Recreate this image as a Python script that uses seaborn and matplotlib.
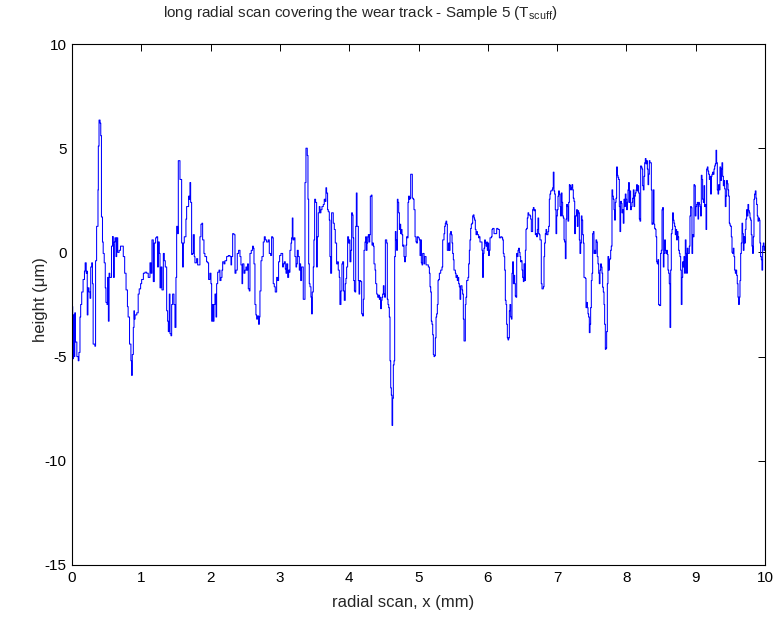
import matplotlib
matplotlib.use("Agg")
import matplotlib.pyplot as plt
import seaborn as sns
import pandas as pd

# radial position (mm), height (um), one list per mm
seg_0 = [(0.0, -2.6), (0.01, -5.1), (0.02, -3.0), (0.03, -5.0), (0.04, -2.9), (0.05, -4.3), (0.07, -5.0),
         (0.09, -5.2), (0.10, -4.8), (0.115, -3.1), (0.125, -2.5), (0.14, -1.9), (0.16, -1.3), (0.18, -0.9),
         (0.19, -0.5), (0.205, -1.0), (0.215, -0.9), (0.22, -3.0), (0.23, -1.7), (0.245, -1.9), (0.26, -2.2),
         (0.27, -0.7), (0.285, -0.5), (0.295, -1.5), (0.305, -4.4), (0.33, -4.5), (0.34, -0.4), (0.355, 1.25),
         (0.375, 3.0), (0.38, 5.1), (0.39, 6.35), (0.405, 6.2), (0.415, 5.6), (0.425, 1.7), (0.44, 0.5),
         (0.45, -0.05), (0.465, -0.5), (0.48, -1.7), (0.49, -2.4), (0.505, -2.5), (0.515, -1.2), (0.525, -3.3),
         (0.535, -1.0), (0.545, -1.2), (0.57, 0.3), (0.585, 0.76), (0.595, 0.4), (0.60, -1.2), (0.61, 0.5),
         (0.62, 0.7), (0.635, -0.2), (0.645, 0.7), (0.66, 0.0), (0.68, 0.1), (0.70, 0.3), (0.72, 0.3),
         (0.74, -0.2), (0.76, -1.0), (0.78, -1.8), (0.80, -2.6), (0.81, -3.1), (0.83, -4.4), (0.85, -5.2),
         (0.86, -5.9), (0.87, -4.9), (0.885, -3.6), (0.895, -2.8), (0.90, -3.2), (0.91, -3.0), (0.935, -2.9),
         (0.955, -2.0), (0.97, -1.75), (0.99, -1.5)]
seg_1 = [(1.005, -1.3), (1.03, -1.0), (1.053, -0.95), (1.077, -1.0), (1.10, -1.2), (1.125, -0.5), (1.14, -1.0),
         (1.154, 0.6), (1.173, -1.4), (1.188, 0.45), (1.207, 0.7), (1.221, 0.75), (1.236, -0.7), (1.245, 0.5),
         (1.26, -0.05), (1.27, -1.7), (1.284, -0.7), (1.298, -1.8), (1.318, -0.05), (1.332, -0.4), (1.346, -0.7),
         (1.366, -2.8), (1.38, -3.3), (1.39, -3.8), (1.404, -2.0), (1.414, -3.9), (1.428, -4.0), (1.438, -2.5),
         (1.452, -2.0), (1.471, -2.5), (1.486, -3.6), (1.50, -1.2), (1.51, 1.25), (1.524, 0.9), (1.534, 4.4),
         (1.548, 4.4), (1.558, 3.5), (1.572, 3.5), (1.582, 0.45), (1.596, -0.7), (1.606, 0.45), (1.62, 0.75),
         (1.644, 1.6), (1.654, 2.2), (1.668, 2.2), (1.683, 2.7), (1.692, 2.55), (1.702, 3.35), (1.712, 2.4),
         (1.726, -0.1), (1.74, -0.05), (1.75, 0.85), (1.765, -0.2), (1.774, -0.5), (1.798, -0.3), (1.813, -0.6),
         (1.827, -0.6), (1.846, 0.75), (1.861, 1.35), (1.875, 1.4), (1.885, 0.6), (1.904, -0.05), (1.918, -0.2),
         (1.942, -0.45), (1.957, -0.5), (1.971, -1.3), (1.99, -1.0), (2.005, -1.5), (2.015, -3.3)]
seg_2 = [(2.03, -2.5), (2.04, -3.3), (2.049, -2.5), (2.063, -2.0), (2.078, -3.1), (2.087, -1.5), (2.102, -0.95),
         (2.121, -0.85), (2.135, -1.35), (2.15, -1.2), (2.164, -0.85), (2.174, -0.45), (2.193, -0.55),
         (2.207, -0.4), (2.231, -0.2), (2.255, -0.15), (2.279, -0.2), (2.294, -0.6), (2.303, -0.2), (2.318, 0.9),
         (2.337, 0.85), (2.352, -1.0), (2.366, -0.85), (2.385, -0.05), (2.404, 0.1), (2.424, -0.2), (2.438, -0.6),
         (2.453, -1.5), (2.462, -0.55), (2.481, -1.0), (2.496, -0.85), (2.51, -0.7), (2.52, -0.85), (2.534, -0.55),
         (2.544, -1.75), (2.558, -1.85), (2.568, -0.05), (2.587, 0.1), (2.606, 0.3), (2.616, 0.2), (2.626, -0.55),
         (2.64, -2.5), (2.654, -3.0), (2.664, -3.2), (2.678, -3.05), (2.693, -3.45), (2.703, -3.1), (2.712, -1.85),
         (2.727, -0.4), (2.741, -0.2), (2.76, 0.5), (2.775, 0.75), (2.789, 0.6), (2.808, 0.5), (2.832, 0.6),
         (2.847, -0.05), (2.866, -0.15), (2.88, 0.75), (2.895, 0.7), (2.904, -1.5), (2.919, -1.65), (2.933, -1.9),
         (2.953, -1.2), (2.967, -1.35), (2.981, -0.45), (2.996, -0.15), (3.015, -0.05)]
seg_3 = [(3.025, -0.05), (3.04, -0.7), (3.049, -0.55), (3.064, -0.45), (3.078, -0.8), (3.088, -1.0),
         (3.097, -0.55), (3.112, -1.2), (3.126, -0.85), (3.136, -0.95), (3.145, 0.1), (3.16, 0.45), (3.169, 0.7),
         (3.179, 1.65), (3.188, 0.6), (3.203, 0.7), (3.217, -0.2), (3.232, -0.7), (3.241, -0.55), (3.251, 0.1),
         (3.265, -0.2), (3.28, -0.85), (3.289, -0.55), (3.299, -1.35), (3.313, -0.7), (3.328, -0.7), (3.337, -2.25),
         (3.352, -2.25), (3.362, 3.35), (3.376, 5.0), (3.395, 4.65), (3.405, 2.55), (3.415, -0.55), (3.424, -1.5),
         (3.434, -1.65), (3.448, -2.15), (3.458, -2.95), (3.467, -1.9), (3.482, -0.7), (3.491, 0.6), (3.501, 2.55),
         (3.515, 2.4), (3.53, -0.7), (3.539, 0.75), (3.554, 1.9), (3.568, 2.2), (3.578, 1.9), (3.592, 2.05),
         (3.607, 2.2), (3.626, 2.3), (3.64, 2.55), (3.655, 2.45), (3.664, 3.1), (3.674, 2.85), (3.688, 2.05),
         (3.698, 1.95), (3.713, 1.55), (3.722, -0.2), (3.732, -1.0), (3.746, 1.9), (3.761, 1.9), (3.77, 1.4),
         (3.785, 1.1), (3.799, 0.45), (3.818, -0.55), (3.833, -0.45), (3.842, -0.85), (3.857, -1.2), (3.866, -2.5),
         (3.881, -1.85), (3.895, -0.55), (3.905, -0.45), (3.919, -1.85), (3.929, -2.3), (3.943, -1.5),
         (3.953, -1.25), (3.963, -0.7), (3.977, 0.75), (3.991, 0.45), (4.001, 0.6), (4.011, -0.45), (4.025, 0.1),
         (4.035, 1.9)]
seg_4 = [(4.046, 1.8), (4.055, 0.7), (4.065, -1.35), (4.075, -1.85), (4.084, -1.9), (4.094, 1.25), (4.103, 2.85),
         (4.113, 1.25), (4.123, 1.25), (4.132, -1.35), (4.142, -2.0), (4.151, -1.35), (4.166, -1.4), (4.18, -2.95),
         (4.195, -3.05), (4.204, -2.25), (4.214, 0.1), (4.228, 0.5), (4.238, 0.75), (4.248, 0.1), (4.257, 0.45),
         (4.267, 0.75), (4.276, 0.85), (4.286, 0.5), (4.296, 0.85), (4.305, 2.7), (4.32, 2.75), (4.329, 0.35),
         (4.339, 0.45), (4.349, 0.3), (4.358, -0.55), (4.373, -0.85), (4.382, -1.5), (4.397, -2.0), (4.411, -2.15),
         (4.425, -2.05), (4.435, -2.25), (4.445, -2.15), (4.454, -2.7), (4.464, -2.3), (4.474, -2.15), (4.483, -2.0),
         (4.493, -1.6), (4.502, -2.0), (4.512, -2.15), (4.522, 0.6), (4.531, 0.6), (4.541, 0.45), (4.55, -2.25),
         (4.56, -2.5), (4.57, -2.65), (4.579, -3.1), (4.589, -5.2), (4.599, -6.5), (4.608, -6.85), (4.618, -8.3),
         (4.627, -7.0), (4.637, -5.4), (4.647, -5.2), (4.656, -0.2), (4.666, 1.0), (4.675, 0.6), (4.685, 0.1),
         (4.695, 2.55), (4.704, 2.4), (4.714, 1.9), (4.724, 1.1), (4.733, 1.35), (4.743, 0.9), (4.752, 1.1),
         (4.762, 0.85), (4.772, 0.3), (4.781, 0.35), (4.791, -0.2), (4.80, -0.45), (4.81, -0.2), (4.82, 0.35),
         (4.829, 0.75), (4.839, 0.7), (4.849, 2.4), (4.858, 2.7), (4.868, 2.55), (4.877, 2.6), (4.887, 3.75),
         (4.901, 3.75), (4.911, 2.6), (4.925, 2.55), (4.935, 2.05), (4.95, 0.75), (4.964, 0.5), (4.974, 0.45),
         (4.983, 0.75), (4.998, 0.7), (5.012, 0.6), (5.022, -0.15), (5.031, 0.6), (5.041, -0.5)]
seg_5 = [(5.051, -0.6), (5.06, -0.05), (5.08, -0.55), (5.089, -0.2), (5.109, -0.6), (5.128, -0.6), (5.142, -0.7),
         (5.157, -1.0), (5.166, -1.65), (5.176, -1.9), (5.185, -3.3), (5.195, -3.45), (5.205, -3.95), (5.214, -4.9),
         (5.224, -5.0), (5.234, -4.95), (5.243, -4.1), (5.253, -3.1), (5.262, -2.95), (5.272, -2.5), (5.282, -1.35),
         (5.291, -1.3), (5.301, -1.0), (5.32, -0.85), (5.339, -0.7), (5.349, 0.6), (5.368, 0.9), (5.378, 1.25),
         (5.387, 1.4), (5.397, 1.5), (5.407, 1.35), (5.416, 0.1), (5.426, 0.1), (5.435, 0.45), (5.445, 0.1),
         (5.455, 0.9), (5.464, 1.0), (5.474, 0.85), (5.484, 0.45), (5.493, -0.05), (5.503, -0.35), (5.512, -0.85),
         (5.532, -1.0), (5.541, -1.2), (5.551, -1.1), (5.56, -1.35), (5.57, -1.2), (5.58, -1.5), (5.589, -1.65),
         (5.599, -2.25), (5.609, -1.6), (5.628, -1.8), (5.637, -2.0), (5.647, -3.2), (5.657, -4.25), (5.666, -4.25),
         (5.676, -2.5), (5.685, -2.15), (5.695, -1.35), (5.714, -1.2), (5.724, -0.55), (5.734, 0.1), (5.743, 0.6),
         (5.753, 1.15), (5.762, 1.35), (5.772, 1.4), (5.782, 1.75), (5.791, 1.8), (5.801, 1.65), (5.81, 1.55),
         (5.82, 1.1), (5.83, 0.85), (5.839, 1.0), (5.849, 0.85), (5.868, 0.7), (5.878, 0.75), (5.887, 0.5),
         (5.907, 0.5), (5.916, 0.1), (5.926, -1.2), (5.935, -0.05), (5.945, 0.2), (5.955, 0.6), (5.964, 0.45),
         (5.974, 0.3), (5.984, 0.5), (5.993, 0.1), (6.003, 0.45), (6.012, -0.15), (6.022, 0.1), (6.032, 0.7),
         (6.051, 0.75)]
seg_6 = [(6.061, 1.1), (6.07, 1.15), (6.09, 0.9), (6.109, 0.9), (6.128, 1.15), (6.147, 1.1), (6.167, 0.7),
         (6.186, 0.75), (6.205, 0.7), (6.215, 0.6), (6.224, -0.05), (6.234, -0.2), (6.244, -0.85), (6.253, -2.3),
         (6.263, -2.5), (6.272, -3.45), (6.282, -4.1), (6.292, -4.2), (6.301, -4.1), (6.311, -2.8), (6.32, -2.5),
         (6.33, -3.1), (6.34, -3.2), (6.349, -1.0), (6.359, -0.45), (6.369, -1.5), (6.378, -1.1), (6.388, -1.5),
         (6.397, -2.1), (6.407, -2.15), (6.417, -0.05), (6.426, -0.2), (6.436, 0.1), (6.445, 0.2), (6.455, 0.0),
         (6.465, -0.2), (6.474, -0.45), (6.484, -0.4), (6.494, -0.85), (6.503, -1.2), (6.513, -1.4), (6.522, -0.55),
         (6.532, -1.35), (6.542, 0.1), (6.551, 1.1), (6.561, 1.15), (6.57, 1.65), (6.58, 1.9), (6.59, 1.8),
         (6.609, 1.75), (6.619, 1.6), (6.628, 1.0), (6.638, 1.0), (6.647, 2.05), (6.657, 2.15), (6.667, 2.0),
         (6.676, 2.05), (6.686, 0.85), (6.695, 0.9), (6.705, 0.75), (6.715, 1.1), (6.724, 1.65), (6.734, 0.9),
         (6.744, 0.85), (6.753, 0.6), (6.772, -1.5), (6.782, -1.75), (6.792, -1.75), (6.801, -1.65), (6.811, -0.2),
         (6.82, 0.45), (6.83, 0.9), (6.84, 1.1), (6.849, 0.85), (6.868, 1.0), (6.878, 1.25), (6.888, 2.55),
         (6.897, 2.8), (6.907, 2.95), (6.926, 3.0), (6.936, 3.1), (6.945, 3.85), (6.955, 2.95), (6.965, 2.8),
         (6.974, 2.05), (6.984, 0.9), (6.994, 1.75), (7.003, 2.05), (7.013, 2.7), (7.022, 2.95), (7.032, 2.8),
         (7.042, 2.2), (7.051, 1.75), (7.061, 2.85)]
seg_7 = [(7.071, 2.4), (7.08, 1.75), (7.09, 1.65), (7.1, 0.6), (7.109, 0.5), (7.119, -0.3), (7.129, 1.6),
         (7.138, 2.3), (7.148, 2.2), (7.157, 1.5), (7.167, 2.4), (7.177, 3.25), (7.186, 3.2), (7.196, 3.0),
         (7.205, 3.1), (7.215, 3.25), (7.225, 3.0), (7.234, 2.6), (7.244, 2.45), (7.254, 0.9), (7.263, 1.75),
         (7.273, 1.75), (7.282, 2.05), (7.292, 1.25), (7.302, 2.0), (7.311, 1.9), (7.321, 0.6), (7.33, -0.05),
         (7.34, 0.45), (7.35, 1.75), (7.359, 1.55), (7.369, 0.85), (7.379, 0.45), (7.388, -1.2), (7.398, -1.2),
         (7.407, -1.25), (7.417, -2.65), (7.427, -2.4), (7.436, -2.65), (7.446, -2.95), (7.455, -3.1),
         (7.465, -3.85), (7.475, -3.45), (7.484, -2.65), (7.494, -1.35), (7.504, -1.0), (7.513, 0.9), (7.523, 1.0),
         (7.532, -0.05), (7.542, 0.1), (7.552, -0.05), (7.561, 0.6), (7.571, 0.5), (7.58, -0.2), (7.59, -0.55),
         (7.6, -1.0), (7.609, -1.5), (7.619, -0.85), (7.629, -0.55), (7.638, -0.7), (7.648, -1.0), (7.657, -1.67),
         (7.667, -1.9), (7.677, -2.5), (7.686, -3.45), (7.696, -4.65), (7.705, -4.6), (7.715, -3.8), (7.725, -1.5),
         (7.734, -0.2), (7.744, -0.85), (7.754, -0.35), (7.763, -0.3), (7.773, 0.1), (7.782, 0.3), (7.792, 3.0),
         (7.802, 2.7), (7.811, 2.55), (7.821, 2.05), (7.83, 1.55), (7.84, 2.4), (7.85, 2.6), (7.859, 4.1),
         (7.869, 3.7), (7.878, 3.6), (7.888, 3.5), (7.898, 2.2), (7.907, 1.0), (7.917, 2.45), (7.927, 2.35),
         (7.936, 1.9), (7.946, 2.05), (7.955, 1.4), (7.965, 2.55), (7.975, 2.2), (7.984, 2.8), (7.994, 2.55),
         (8.004, 2.05), (8.013, 2.4), (8.023, 3.0), (8.032, 3.35), (8.042, 2.4), (8.052, 2.95), (8.061, 2.05),
         (8.071, 2.2)]
seg_8 = [(8.081, 2.4), (8.09, 2.6), (8.1, 3.0), (8.11, 2.2), (8.119, 2.7), (8.129, 2.85), (8.139, 3.0),
         (8.148, 3.25), (8.158, 2.95), (8.167, 3.2), (8.177, 2.85), (8.187, 1.6), (8.196, 1.5), (8.206, 4.15),
         (8.215, 4.1), (8.225, 4.0), (8.235, 3.2), (8.244, 3.0), (8.254, 3.65), (8.264, 4.3), (8.273, 4.5),
         (8.283, 4.25), (8.292, 4.4), (8.302, 4.0), (8.312, 3.25), (8.321, 3.75), (8.331, 4.4), (8.34, 4.3),
         (8.35, 4.3), (8.36, 3.0), (8.369, 1.35), (8.379, 1.4), (8.389, 3.0), (8.398, 1.35), (8.408, 1.15),
         (8.417, 1.1), (8.427, 0.75), (8.437, -0.45), (8.446, -0.55), (8.456, -0.35), (8.465, -2.5), (8.475, -2.55),
         (8.485, -2.55), (8.494, -0.05), (8.504, 0.1), (8.514, 2.05), (8.523, 2.15), (8.533, -0.7), (8.542, -0.05),
         (8.552, 0.6), (8.562, 0.1), (8.571, -0.05), (8.581, 0.1), (8.59, -0.1), (8.6, -0.85), (8.61, -1.0),
         (8.619, -1.5), (8.629, -3.6), (8.639, -0.85), (8.648, 0.9), (8.658, 1.1), (8.667, 1.9), (8.677, 1.55),
         (8.687, 1.4), (8.696, 1.25), (8.706, 0.85), (8.715, 1.1), (8.725, 0.6), (8.735, 1.0), (8.744, 0.75),
         (8.754, 0.1), (8.764, -0.05), (8.773, -0.2), (8.783, -0.85), (8.792, -2.5), (8.802, -1.2), (8.812, -0.45),
         (8.821, -0.7), (8.831, -0.2), (8.84, -1.0), (8.85, 0.6), (8.86, -0.05), (8.869, -1.0), (8.879, 0.2),
         (8.889, -0.05), (8.898, -0.05), (8.908, 0.3), (8.917, 1.75), (8.927, 2.2), (8.937, 2.15), (8.946, -0.05),
         (8.956, 0.85), (8.965, 0.75), (8.975, 3.25), (8.985, 3.2), (8.994, 1.75), (9.004, 2.2), (9.014, 2.3),
         (9.023, 2.4), (9.033, 1.6), (9.042, 2.4), (9.052, 2.3), (9.062, 2.2), (9.071, 1.75), (9.081, 3.7)]
seg_9 = [(9.091, 3.5), (9.1, 2.55), (9.11, 2.4), (9.12, 3.2), (9.129, 2.2), (9.139, 2.3), (9.149, 1.1),
         (9.158, 4.0), (9.168, 4.1), (9.177, 3.9), (9.187, 3.75), (9.197, 3.5), (9.206, 3.65), (9.216, 2.8),
         (9.225, 3.65), (9.235, 3.75), (9.245, 3.85), (9.254, 3.75), (9.264, 4.0), (9.274, 4.15), (9.283, 4.25),
         (9.293, 4.9), (9.302, 4.3), (9.312, 3.0), (9.322, 2.8), (9.331, 3.25), (9.341, 3.0), (9.35, 4.1),
         (9.36, 3.45), (9.37, 4.0), (9.379, 4.3), (9.389, 3.65), (9.399, 3.2), (9.408, 3.45), (9.418, 3.05),
         (9.427, 2.2), (9.437, 2.7), (9.447, 3.45), (9.456, 3.3), (9.466, 3.0), (9.475, 2.7), (9.485, 1.4),
         (9.495, 1.3), (9.504, 1.25), (9.514, 0.75), (9.524, 0.0), (9.533, -0.05), (9.543, 0.2), (9.552, -0.2),
         (9.562, -0.85), (9.572, -1.0), (9.581, -0.85), (9.591, -1.1), (9.6, -1.5), (9.61, -2.15), (9.62, -2.5),
         (9.629, -2.15), (9.639, -1.35), (9.649, -0.05), (9.658, 0.45), (9.668, 1.4), (9.677, 0.9), (9.687, 0.1),
         (9.697, 0.75), (9.706, 0.45), (9.716, 1.1), (9.725, 1.6), (9.735, 2.05), (9.745, 1.75), (9.754, 2.3),
         (9.764, 2.0), (9.774, 1.9), (9.783, 1.65), (9.793, 1.55), (9.802, 0.85), (9.812, 0.3), (9.822, -0.05),
         (9.831, 0.75), (9.841, 2.55), (9.85, 2.8), (9.86, 2.95), (9.87, 2.6), (9.879, 2.3), (9.889, 1.75),
         (9.899, 1.5), (9.908, 1.65), (9.918, 1.55), (9.927, 0.45), (9.937, -0.2), (9.947, -0.35), (9.956, -0.85),
         (9.966, 0.3), (9.976, 0.45), (9.985, 0.1), (10.0, 0.3)]

x_ticks = [0, 1, 2, 3, 4, 5, 6, 7, 8, 9, 10]
y_ticks = [-15, -10, -5, 0, 5, 10]
title_text = r"long radial scan covering the wear track - Sample 5 (T$_{\mathrm{scuff}}$)"
x_label = "radial scan, x (mm)"
y_label = "height (μm)"

sns.set_style("white")
plt.rcParams["font.family"] = ["Liberation Sans", "DejaVu Sans"]
plt.rcParams["axes.unicode_minus"] = False
plt.rcParams["mathtext.fontset"] = "custom"
plt.rcParams["mathtext.rm"] = "Liberation Sans"
plt.rcParams["mathtext.it"] = "Liberation Sans:italic"
plt.rcParams["mathtext.bf"] = "Liberation Sans:bold"

points = [p for seg in (seg_0, seg_1, seg_2, seg_3, seg_4, seg_5, seg_6, seg_7, seg_8, seg_9) for p in seg]
df = pd.DataFrame(points, columns=["x", "h"])

W, H = 780, 621
fig = plt.figure(figsize=(W / 100, H / 100), dpi=100)
ax = fig.add_axes([72 / W, 1 - 565 / H, (765 - 72) / W, (565 - 44) / H])
sns.lineplot(data=df, x="x", y="h", sort=False, estimator=None, color="#0000ff",
             linewidth=0.75, drawstyle="steps-post", ax=ax)
ax.set_xlim(0, 10)
ax.set_ylim(-15, 10)
ax.set_xticks(x_ticks)
ax.set_yticks(y_ticks)
ax.set_xticklabels([str(t) for t in x_ticks])
ax.set_yticklabels([str(t) for t in y_ticks])
ax.tick_params(direction="in", top=True, right=True, length=5, width=0.7,
               labelsize=11, pad=4, colors="black")
for s in ax.spines.values():
    s.set_linewidth(0.8)
    s.set_color("black")
ax.set_xlabel(x_label, fontsize=12)
ax.set_ylabel(y_label, fontsize=12)
ax.xaxis.set_label_coords((403 - 72) / 693, (565 - 603) / 521)
ax.yaxis.set_label_coords((40 - 72) / 693, (565 - 300) / 521)
ax.xaxis.label.set_verticalalignment("center")
ax.yaxis.label.set_verticalalignment("center")
fig.text(360 / W, 1 - 13 / H, title_text, fontsize=11, ha="center", va="center")
ax.grid(False)
fig.savefig("out.png", dpi=100, facecolor="white")
